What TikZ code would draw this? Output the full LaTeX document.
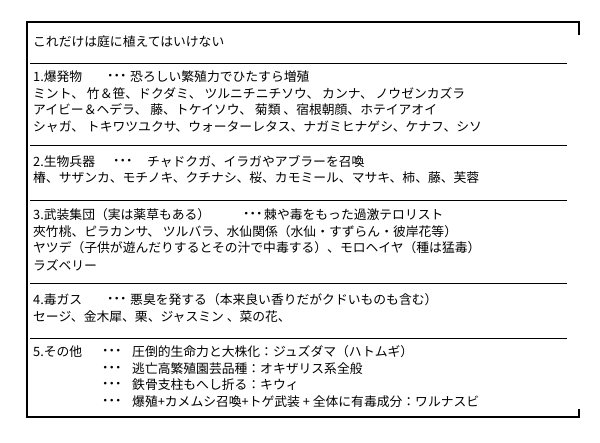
\documentclass[tikz,border=0pt]{standalone}
\usepackage{fontspec}
\newfontfamily\jp{Noto Sans CJK JP}
\begin{document}
\begin{tikzpicture}[x=1pt,y=-1pt,
  txt/.style={anchor=west,inner sep=0pt,font=\jp\fontsize{12.8}{14}\selectfont},
  dots/.style={anchor=west,inner sep=0pt,font=\jp\bfseries\fontsize{12.8}{14}\selectfont},
  sep/.style={line width=0.8pt},
  frame/.style={line width=1.6pt}]
\useasboundingbox (0,0) rectangle (600,442);
\coordinate (tl) at (27,22); \coordinate (tr) at (579,22);
\coordinate (trd) at (579,35); \coordinate (bl) at (27,417);
\coordinate (br) at (579,417); \coordinate (bru) at (579,409);
\draw[frame] (trd) -- (tr) -- (tl) -- (bl) -- (br) -- (bru);
\foreach \y/\n in {63/a,145/b,200/c,283/d,338/e}{
  \coordinate (s\n1) at (30,\y); \coordinate (s\n2) at (567,\y);
  \draw[sep] (s\n1) -- (s\n2);}
\node[txt] (t0) at (33,42) {これだけは庭に植えてはいけない};
\node[txt] (h1) at (33,77) {1.爆発物};
\node[dots] (d1) at (107,77) {･･･};
\node[txt] (x1) at (130,77) {恐ろしい繁殖力でひたすら増殖};
\node[txt] (l11) at (33,94) {ミント、 竹＆笹、ドクダミ、 ツルニチニチソウ、 カンナ、 ノウゼンカズラ};
\node[txt] (l12) at (33,110) {アイビー＆ヘデラ、 藤、トケイソウ、 菊類 、宿根朝顔、ホテイアオイ};
\node[txt] (l13) at (33,127) {シャガ、 トキワツユクサ、ウォーターレタス、ナガミヒナゲシ、ケナフ、シソ};
\node[txt] (h2) at (33,162) {2.生物兵器};
\node[dots] (d2) at (113,162) {･･･};
\node[txt] (x2) at (147,162) {チャドクガ、イラガやアブラーを召喚};
\node[txt] (l21) at (33,178) {椿、サザンカ、モチノキ、クチナシ、桜、カモミール、マサキ、柿、藤、芙蓉};
\node[txt] (h3) at (33,215) {3.武装集団（実は薬草もある）};
\node[dots] (d3) at (243,215) {･･･};
\node[txt] (x3) at (264,215) {棘や毒をもった過激テロリスト};
\node[txt] (l31) at (33,232) {夾竹桃、ピラカンサ、 ツルバラ、水仙関係（水仙・すずらん・彼岸花等）};
\node[txt] (l32) at (33,248) {ヤツデ（子供が遊んだりするとその汁で中毒する）、モロヘイヤ（種は猛毒）};
\node[txt] (l33) at (33,265) {ラズベリー};
\node[txt] (h4) at (33,300) {4.毒ガス};
\node[dots] (d4) at (107,300) {･･･};
\node[txt] (x4) at (130,300) {悪臭を発する（本来良い香りだがクドいものも含む）};
\node[txt] (l41) at (33,317) {セージ、金木犀、栗、ジャスミン 、菜の花、};
\node[txt] (h5) at (33,352) {5.その他};
\node[dots] (d51) at (102,352) {･･･};
\node[txt] (x51) at (132,352) {圧倒的生命力と大株化：ジュズダマ（ハトムギ）};
\node[dots] (d52) at (102,369) {･･･};
\node[txt] (x52) at (132,369) {逃亡高繁殖園芸品種：オキザリス系全般};
\node[dots] (d53) at (102,385) {･･･};
\node[txt] (x53) at (132,385) {鉄骨支柱もへし折る：キウィ};
\node[dots] (d54) at (102,402) {･･･};
\node[txt] (x54) at (132,402) {爆殖+カメムシ召喚+トゲ武装 + 全体に有毒成分：ワルナスビ};
\end{tikzpicture}
\end{document}
